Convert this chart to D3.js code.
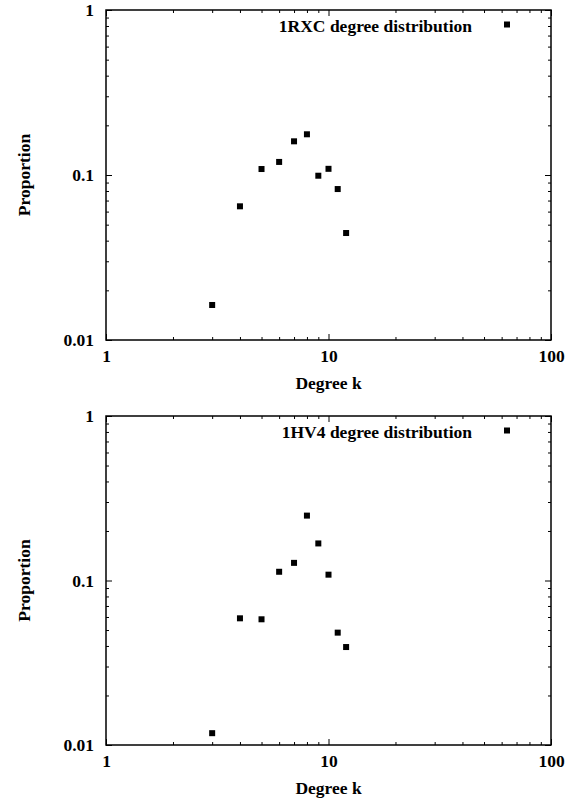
<!DOCTYPE html>
<html>
<head>
<meta charset="utf-8">
<script src="https://cdn.jsdelivr.net/npm/d3@7"></script>
<style>
  body { margin: 0; background: #fff; }
  text { font-family: "Liberation Serif", "Times New Roman", serif; font-weight: bold; font-size: 17.5px; fill: #000; }
</style>
</head>
<body>
<script>
// Constant
const w = 579;
const h = 800;

// Data
const degrees = [3, 4, 5, 6, 7, 8, 9, 10, 11, 12];
const rxcProportion = [0.0163, 0.0646, 0.1087, 0.120, 0.160, 0.1765, 0.099, 0.109, 0.0822, 0.0445];
const hv4Proportion = [0.0118, 0.0589, 0.0581, 0.113, 0.128, 0.248, 0.168, 0.1085, 0.0482, 0.0394];
const titles = ['1RXC degree distribution', '1HV4 degree distribution'];
const xMajor = [1, 10, 100];
const yMajor = [0.01, 0.1, 1];
const xMinor = [2, 3, 4, 5, 6, 7, 8, 9, 20, 30, 40, 50, 60, 70, 80, 90];
const yMinor = [0.02, 0.03, 0.04, 0.05, 0.06, 0.07, 0.08, 0.09, 0.2, 0.3, 0.4, 0.5, 0.6, 0.7, 0.8, 0.9];

// Create the svg canvas
var svg = d3.select('body')
  .append('svg')
  .attr('width', w)
  .attr('height', h);

var left = 106, right = 551;
var x = d3.scaleLog().domain([1, 100]).range([left, right]);

function panel(top, bottom, values, title) {
  var y = d3.scaleLog().domain([0.01, 1]).range([bottom, top]);
  var g = svg.append('g');

  // ticks, inward and mirrored on all four sides
  var drawTicks = function(axis, tr, vals, size) {
    g.append('g')
      .attr('transform', tr)
      .call(axis.tickValues(vals).tickSize(size).tickFormat(''))
      .call(a => a.select('.domain').remove())
      .selectAll('line').attr('stroke-width', 1);
  };
  drawTicks(d3.axisBottom(x), `translate(0,${bottom})`, xMajor, -6);
  drawTicks(d3.axisBottom(x), `translate(0,${bottom})`, xMinor, -3);
  drawTicks(d3.axisTop(x), `translate(0,${top})`, xMajor, -6);
  drawTicks(d3.axisTop(x), `translate(0,${top})`, xMinor, -3);
  drawTicks(d3.axisLeft(y), `translate(${left},0)`, yMajor, -6);
  drawTicks(d3.axisLeft(y), `translate(${left},0)`, yMinor, -3);
  drawTicks(d3.axisRight(y), `translate(${right},0)`, yMajor, -6);
  drawTicks(d3.axisRight(y), `translate(${right},0)`, yMinor, -3);

  // tick labels
  g.append('g')
    .attr('transform', `translate(0,${bottom})`)
    .call(d3.axisBottom(x).tickValues(xMajor).tickSize(0).tickPadding(10).tickFormat(d3.format('~g')))
    .call(a => a.select('.domain').remove())
    .selectAll('text').attr('font-size', null).attr('font-family', null);
  g.append('g')
    .attr('transform', `translate(${left},0)`)
    .call(d3.axisLeft(y).tickValues(yMajor).tickSize(0).tickPadding(12).tickFormat(d3.format('~g')))
    .call(a => a.select('.domain').remove())
    .selectAll('text').attr('font-size', null).attr('font-family', null);

  // frame
  g.append('rect')
    .attr('x', left).attr('y', top)
    .attr('width', right - left).attr('height', bottom - top)
    .attr('fill', 'none').attr('stroke', '#000').attr('stroke-width', 1.5);

  // axis titles
  g.append('text')
    .attr('x', (left + right) / 2)
    .attr('y', bottom + 49)
    .attr('text-anchor', 'middle')
    .text('Degree k');
  g.append('text')
    .attr('transform', `translate(29.5,${(top + bottom) / 2}) rotate(-90)`)
    .attr('text-anchor', 'middle')
    .text('Proportion');

  // key
  g.append('text')
    .attr('x', 472)
    .attr('y', top + 21.5)
    .attr('text-anchor', 'end')
    .text(title);
  g.append('rect')
    .attr('x', 507 - 3).attr('y', top + 14.5 - 3)
    .attr('width', 6).attr('height', 6)
    .attr('fill', '#000');

  // points
  g.selectAll('rect.pt')
    .data(degrees.map((k, i) => [k, values[i]]))
    .enter()
    .append('rect')
    .attr('class', 'pt')
    .attr('x', d => x(d[0]) - 3)
    .attr('y', d => y(d[1]) - 3)
    .attr('width', 6)
    .attr('height', 6)
    .attr('fill', '#000');
}

panel(10, 340, rxcProportion, titles[0]);
panel(416, 745, hv4Proportion, titles[1]);
</script>
</body>
</html>
